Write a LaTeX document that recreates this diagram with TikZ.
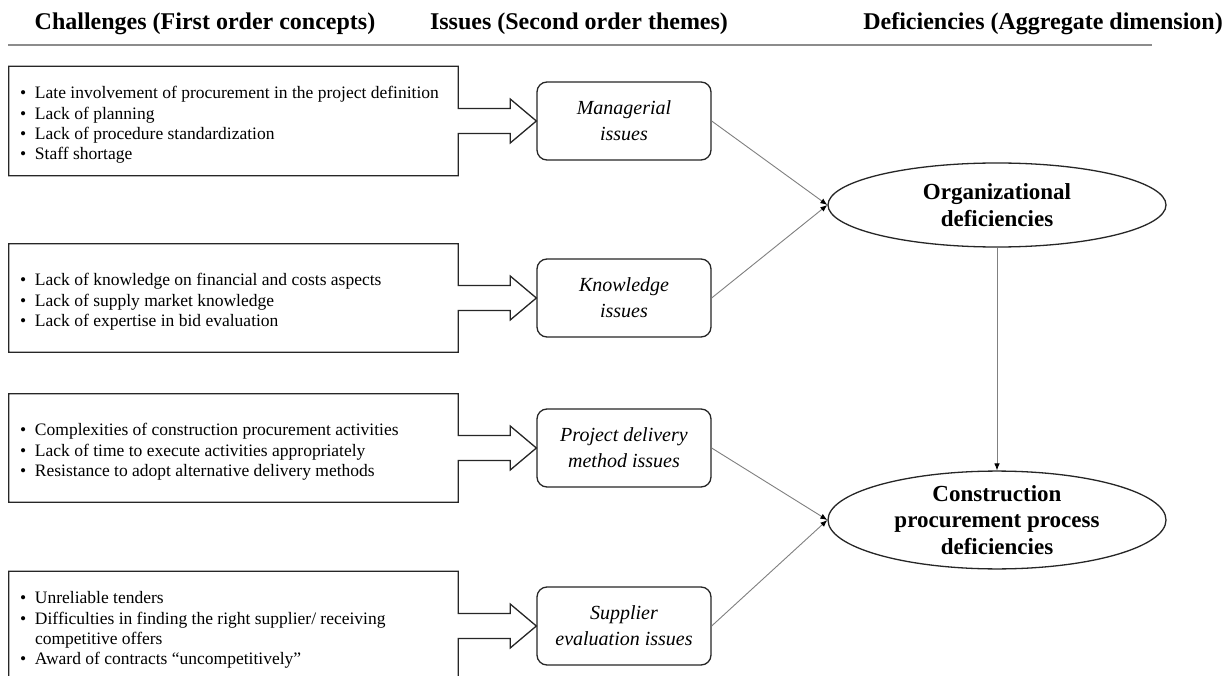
\documentclass[tikz,border=0pt]{standalone}
\usepackage{fontspec}
\setmainfont{Liberation Serif}
\usetikzlibrary{shapes.geometric,arrows.meta}
\newcommand\bul{\makebox[15pt][l]{\textbullet}}
\newcommand\clist[1]{\parbox{427pt}{\raggedright\vspace*{8pt}#1}}
\tikzset{
  hdr/.style={font=\fontsize{24}{28}\selectfont\bfseries, anchor=base, inner sep=0},
  cbox/.style={rectangle, minimum width=449pt, inner xsep=11pt, inner ysep=0pt,
    font=\fontsize{17.5}{20.3}\selectfont},
  ibox/.style={rectangle, rounded corners=10pt, draw=black!85, line width=1.3pt,
    minimum width=174pt, minimum height=78pt, align=center, inner sep=0,
    font=\fontsize{20}{26}\selectfont\itshape},
  dbox/.style={ellipse, draw=black!85, line width=1.3pt, minimum width=338pt, minimum height=84pt,
    inner sep=0, align=center, font=\fontsize{23}{26.5}\selectfont\bfseries},
  cline/.style={draw=black!85, line width=1.3pt, line join=miter},
  conn/.style={draw=black!50, line width=0.9pt, -{Latex[length=7pt,width=5.5pt,color=black]}},
}
\newcommand\challarrow[2]{%
  \draw[cline] ([yshift=12.5pt]#1.east) -- (#1.north east) -- (#1.north west) -- (#1.south west)
    -- (#1.south east) -- ([yshift=-12.5pt]#1.east) -- ([xshift=52pt,yshift=-12.5pt]#1.east)
    -- ([xshift=52pt,yshift=-22pt]#1.east) -- (#2.west) -- ([xshift=52pt,yshift=22pt]#1.east)
    -- ([xshift=52pt,yshift=12.5pt]#1.east) -- cycle;}
\begin{document}
\begin{tikzpicture}[x=1pt,y=-1pt]
\clip (0,0) rectangle (1226,676);
\fill[white] (0,0) rectangle (1226,676);
% headers
\node[hdr] (h1) at (205,30) {Challenges (First order concepts)};
\node[hdr] (h2) at (579,30) {Issues (Second order themes)};
\node[hdr, anchor=base east] (h3) at (1223,30) {Deficiencies (Aggregate dimension)};
\coordinate (rl) at (8,45);
\coordinate (rr) at (1152,45);
\draw[black!45, line width=2pt] (rl) -- (rr);
% challenge boxes
\node[cbox, minimum height=109pt] (c1) at (233.5,121) {\clist{\bul Late involvement of procurement in the project definition\\
\bul Lack of planning\\ \bul Lack of procedure standardization\\ \bul Staff shortage}};
\node[cbox, minimum height=108pt] (c2) at (233.5,298) {\clist{\bul Lack of knowledge on financial and costs aspects\\
\bul Lack of supply market knowledge\\ \bul Lack of expertise in bid evaluation}};
\node[cbox, minimum height=108pt] (c3) at (233.5,448) {\clist{\bul Complexities of construction procurement activities\\
\bul Lack of time to execute activities appropriately\\ \bul Resistance to adopt alternative delivery methods}};
\node[cbox, minimum height=109pt] (c4) at (233.5,626) {\clist{\bul Unreliable tenders\\
\bul Difficulties in finding the right supplier/ receiving\\ \hspace*{15pt}competitive offers\\ \bul Award of contracts ``uncompetitively''}};
% issue boxes
\node[ibox] (m) at (624,121) {Managerial\\issues};
\node[ibox] (k) at (624,298) {Knowledge\\issues};
\node[ibox] (p) at (624,448) {Project delivery\\method issues};
\node[ibox] (s) at (624,626) {Supplier\\evaluation issues};
\challarrow{c1}{m}
\challarrow{c2}{k}
\challarrow{c3}{p}
\challarrow{c4}{s}
% deficiencies
\node[dbox] (o) at (997,205) {Organizational\\deficiencies};
\node[dbox] (c) at (997,520) {Construction\\procurement process\\deficiencies};
\draw[conn] (m.east) -- (o.west);
\draw[conn] (k.east) -- (o.west);
\draw[conn] (p.east) -- (c.west);
\draw[conn] (s.east) -- (c.west);
\draw[conn] (o.south) -- (c.north);
\end{tikzpicture}
\end{document}
